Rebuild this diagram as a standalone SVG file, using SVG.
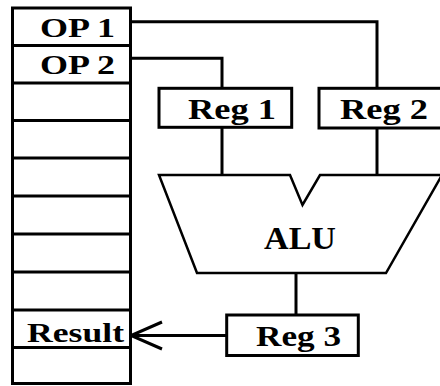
<svg xmlns="http://www.w3.org/2000/svg" width="440" height="386" viewBox="0 0 440 386">
  <defs>
    <style>
      .box { fill: #fff; stroke: #000; stroke-width: 3; }
      .wire { fill: none; stroke: #000; stroke-width: 3; }
      .lbl { font-family: "Liberation Serif", "Times New Roman", serif; font-weight: bold; fill: #000; }
      .s27 { font-size: 27px; }
      .s29 { font-size: 29px; }
    </style>
    <marker id="openArrow" markerUnits="userSpaceOnUse" viewBox="-2 -2 35 31" refX="31" refY="13.5" markerWidth="35" markerHeight="31" orient="auto">
      <path d="M0,0 L31,13.5 L0,27" fill="none" stroke="#000" stroke-width="3"/>
    </marker>
  </defs>
  <rect width="440" height="386" fill="#fff"/>

  <g id="connectors">
    <polyline class="wire" points="130.5,21.7 377,21.7 377,88.3"/>
    <polyline class="wire" points="130.5,58.3 222,58.3 222,88.3"/>
    <line class="wire" x1="222" y1="127.3" x2="222" y2="175"/>
    <line class="wire" x1="377" y1="128" x2="377" y2="175"/>
    <line class="wire" x1="296" y1="273" x2="296" y2="315"/>
    <line class="wire" x1="226.7" y1="335.5" x2="131" y2="335.5" marker-end="url(#openArrow)"/>
  </g>

  <g id="memory">
    <rect class="box" x="12.5" y="8" width="118" height="375.5"/>
    <g class="wire">
      <line x1="12.5" y1="45.5" x2="130.5" y2="45.5"/>
      <line x1="12.5" y1="83" x2="130.5" y2="83"/>
      <line x1="12.5" y1="120.5" x2="130.5" y2="120.5"/>
      <line x1="12.5" y1="158" x2="130.5" y2="158"/>
      <line x1="12.5" y1="196" x2="130.5" y2="196"/>
      <line x1="12.5" y1="234" x2="130.5" y2="234"/>
      <line x1="12.5" y1="272" x2="130.5" y2="272"/>
      <line x1="12.5" y1="310" x2="130.5" y2="310"/>
      <line x1="12.5" y1="347.5" x2="130.5" y2="347.5"/>
    </g>
    <text class="lbl s27" x="40" y="37.3" textLength="75" lengthAdjust="spacingAndGlyphs">OP 1</text>
    <text class="lbl s27" x="40" y="73.8" textLength="75" lengthAdjust="spacingAndGlyphs">OP 2</text>
    <text class="lbl s27" x="27" y="341.7" textLength="97" lengthAdjust="spacingAndGlyphs">Result</text>
  </g>

  <g id="reg1">
    <rect class="box" x="159" y="88.3" width="132.7" height="39"/>
    <text class="lbl s29" x="188" y="119.3" textLength="88" lengthAdjust="spacingAndGlyphs">Reg 1</text>
  </g>

  <g id="reg2">
    <rect class="box" x="319" y="88.3" width="130" height="39.7"/>
    <text class="lbl s29" x="340" y="119.3" textLength="88" lengthAdjust="spacingAndGlyphs">Reg 2</text>
  </g>

  <g id="alu">
    <polygon points="159,175 290,175 302.5,205 320,175 442,175 386,273 197,273" fill="#fff" stroke="#000" stroke-width="2.5" stroke-linejoin="miter"/>
    <text class="lbl" font-size="31" x="264" y="248.5" textLength="72" lengthAdjust="spacingAndGlyphs">ALU</text>
  </g>

  <g id="reg3">
    <rect class="box" x="226.7" y="315" width="131.6" height="40.5"/>
    <text class="lbl s29" x="256" y="346.3" textLength="85" lengthAdjust="spacingAndGlyphs">Reg 3</text>
  </g>
</svg>
